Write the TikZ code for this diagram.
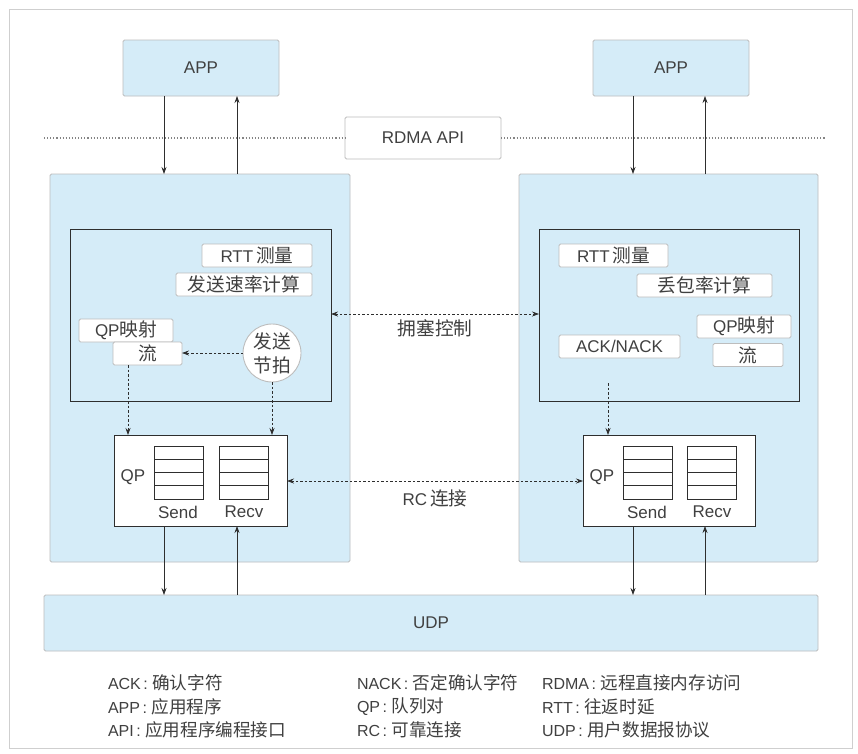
\documentclass[tikz,border=0pt]{standalone}
\usepackage{fontspec}
\setmainfont{Liberation Sans}
\newfontfamily\cjk{Noto Sans CJK SC}[Scale=1.1]
\usetikzlibrary{arrows.meta,calc}
\newcommand{\zh}[1]{{\cjk #1}}
\newcommand{\lgd}[2]{#1\kern2.5pt:\kern4.5pt\zh{#2}}

\definecolor{paleblue}{HTML}{D5ECF8}
\definecolor{edgegrey}{HTML}{BDBDBD}
\definecolor{framegrey}{HTML}{CFCFCF}
\definecolor{ink}{HTML}{2E2E2E}
\definecolor{txt}{HTML}{404040}

\begin{document}
\begin{tikzpicture}[x=1pt,y=-1pt,
  every node/.style={text=txt, font=\fontsize{17}{20}\selectfont, inner sep=0pt, outer sep=0pt},
  bluebox/.style={draw=edgegrey, fill=paleblue, line width=0.9pt, rounded corners=1.5pt},
  tagbox/.style={draw=edgegrey, fill=white, line width=0.9pt, rounded corners=1.5pt, minimum height=23pt},
  darkbox/.style={draw=ink, line width=0.9pt},
  queue/.style={draw=ink, fill=white, line width=0.8pt, minimum width=49pt, minimum height=53pt,
    path picture={\foreach \f in {0.25,0.5,0.75}{
      \draw[ink, line width=0.8pt]
        ($(path picture bounding box.north west)!\f!(path picture bounding box.south west)$) --
        ($(path picture bounding box.north east)!\f!(path picture bounding box.south east)$);}}},
  flow/.style={draw=ink, line width=0.7pt, -{Stealth[length=7pt,width=5pt]}},
  dflow/.style={flow, dash pattern=on 2.5pt off 2pt},
  biflow/.style={draw=ink, line width=0.7pt, dash pattern=on 2.5pt off 2pt,
    {Stealth[length=7pt,width=5pt]}-{Stealth[length=7pt,width=5pt]}},
  legend/.style={anchor=west, font=\fontsize{16}{19}\selectfont}
]
\useasboundingbox (0,0) rectangle (858,753);
\fill[white] (0,0) rectangle (858,753);

% outer frame
\draw[framegrey, line width=1pt] (9,9) rectangle (852,748);

% applications and the API layer
\node[bluebox, minimum width=156pt, minimum height=56pt] (appL) at (201,68) {APP};
\node[bluebox, minimum width=156pt, minimum height=56pt] (appR) at (671,68) {APP};
\node[tagbox, minimum width=156pt, minimum height=42pt] (api) at (423,138) {RDMA API};
\coordinate (apiW) at (44,138);
\coordinate (apiE) at (825,138);
\draw[edgegrey!70!black, line width=1.1pt, dotted] (apiW) -- (api.west);
\draw[edgegrey!70!black, line width=1.1pt, dotted] (api.east) -- (apiE);

% hosts
\node[bluebox, minimum width=300pt, minimum height=388pt] (hostL) at (200,368) {};
\node[bluebox, minimum width=299pt, minimum height=388pt] (hostR) at (668.5,368) {};

% congestion-control blocks
\node[darkbox, minimum width=261pt, minimum height=172pt] (ccL) at (200.5,315) {};
\node[darkbox, minimum width=260pt, minimum height=172pt] (ccR) at (669,315) {};

% sender side components
\node[tagbox, minimum width=110pt] (rttL) at (257,255.5) {RTT\,\zh{测量}};
\node[tagbox, minimum width=136pt] (rateL) at (244,284.5) {\zh{发送速率计算}};
\node[tagbox, minimum width=94pt] (mapL) at (126,330.5) {QP\zh{映射}};
\node[tagbox, minimum width=69pt] (flowL) at (147.5,353.5) {\zh{流}};
\node[circle, draw=edgegrey, fill=white, line width=0.9pt, minimum size=58pt, align=center,
      font=\fontsize{17}{24}\selectfont] (pace) at (272,353) {\zh{发送}\\\zh{节拍}};

% receiver side components
\node[tagbox, minimum width=109pt] (rttR) at (613.5,255.5) {RTT\,\zh{测量}};
\node[tagbox, minimum width=135pt] (lossR) at (704.5,285.5) {\zh{丢包率计算}};
\node[tagbox, minimum width=94pt] (mapR) at (744,326.5) {QP\zh{映射}};
\node[tagbox, minimum width=70pt] (flowR) at (748,355) {\zh{流}};
\node[tagbox, minimum width=121pt] (ackR) at (619.5,346.5) {ACK/NACK};

% queue pairs
\node[darkbox, fill=white, minimum width=173pt, minimum height=91pt] (qpL) at (200.5,480.5) {};
\node[queue] (sqL) at (178.5,472.5) {};
\node[queue] (rqL) at (244,472.5) {};
\node (qpLt) at (133,477) {QP};
\node (sendL) at (178,512) {Send};
\node (recvL) at (244,512) {Recv};

\node[darkbox, fill=white, minimum width=172pt, minimum height=91pt] (qpR) at (669,480.5) {};
\node[queue] (sqR) at (647.5,472.5) {};
\node[queue] (rqR) at (712,472.5) {};
\node (qpRt) at (602,477) {QP};
\node (sendR) at (647,512) {Send};
\node (recvR) at (712,512) {Recv};

% transport
\node[bluebox, minimum width=774pt, minimum height=56pt] (udp) at (431,623) {UDP};

% vertical data paths
\coordinate (dnL) at (164,0);
\coordinate (upL) at (237,0);
\coordinate (dnR) at (633,0);
\coordinate (upR) at (705,0);
\draw[flow] (appL.south -| dnL) -- (hostL.north -| dnL);
\draw[flow] (hostL.north -| upL) -- (appL.south -| upL);
\draw[flow] (appR.south -| dnR) -- (hostR.north -| dnR);
\draw[flow] (hostR.north -| upR) -- (appR.south -| upR);
\draw[flow] (qpL.south -| dnL) -- (udp.north -| dnL);
\draw[flow] (udp.north -| upL) -- (qpL.south -| upL);
\draw[flow] (qpR.south -| dnR) -- (udp.north -| dnR);
\draw[flow] (udp.north -| upR) -- (qpR.south -| upR);

% control paths
\coordinate (flowLx) at (128,0);
\coordinate (ackRs) at (608,383);
\draw[dflow] (pace.west) -- (pace.west -| flowL.east);
\draw[dflow] (flowL.south -| flowLx) -- (qpL.north -| flowLx);
\draw[dflow] (pace.south) -- (qpL.north -| pace.south);
\draw[dflow] (ackRs) -- (qpR.north -| ackRs);

% peer-to-peer links
\coordinate (ccY) at (0,314);
\coordinate (rcY) at (0,481);
\draw[biflow] (ccL.east |- ccY) -- (ccR.west |- ccY);
\draw[biflow] (qpL.east |- rcY) -- (qpR.west |- rcY);
\node (ccLabel) at (435,328) {\zh{拥塞控制}};
\node (rcLabel) at (435,498) {RC\,\zh{连接}};

% abbreviations
\node[legend] (l1) at (108,683) {\lgd{ACK}{确认字符}};
\node[legend] (l2) at (108,706.5) {\lgd{APP}{应用程序}};
\node[legend] (l3) at (108,730) {\lgd{API}{应用程序编程接口}};
\node[legend] (l4) at (357,683) {\lgd{NACK}{否定确认字符}};
\node[legend] (l5) at (357,706.5) {\lgd{QP}{队列对}};
\node[legend] (l6) at (357,730) {\lgd{RC}{可靠连接}};
\node[legend] (l7) at (542,683) {\lgd{RDMA}{远程直接内存访问}};
\node[legend] (l8) at (542,706.5) {\lgd{RTT}{往返时延}};
\node[legend] (l9) at (542,730) {\lgd{UDP}{用户数据报协议}};
\end{tikzpicture}
\end{document}
